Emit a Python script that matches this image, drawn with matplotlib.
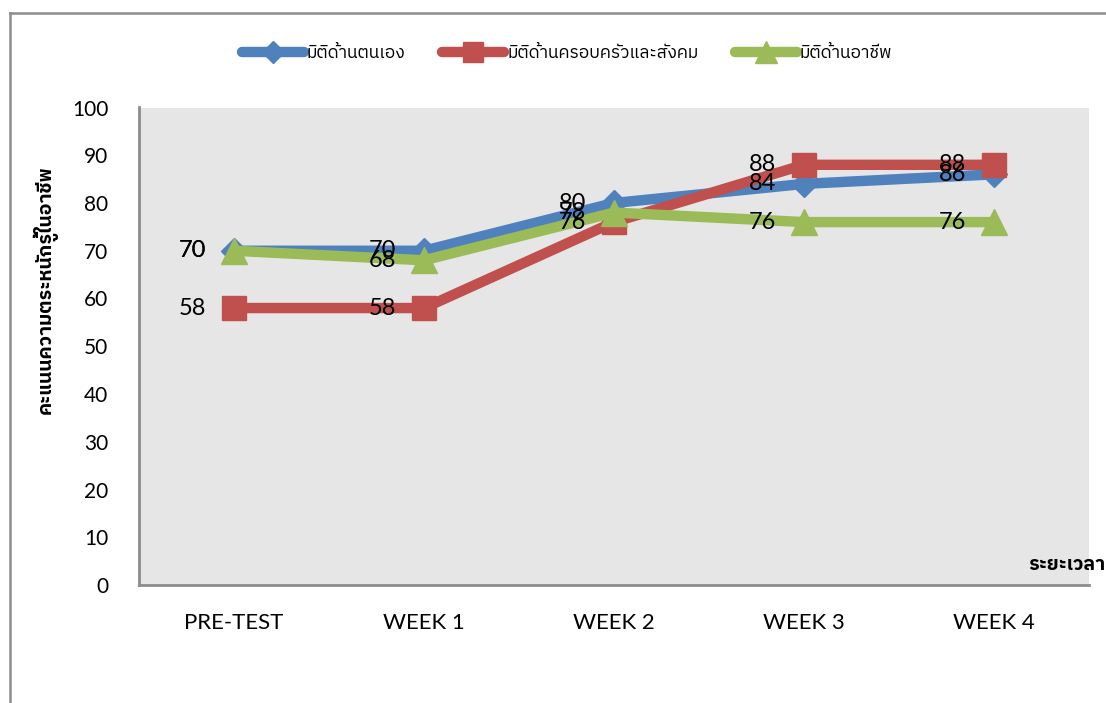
import matplotlib
matplotlib.use("Agg")
import matplotlib.pyplot as plt
from matplotlib import font_manager
from matplotlib.lines import Line2D

# ---- data ----
categories = ["PRE-TEST", "WEEK 1", "WEEK 2", "WEEK 3", "WEEK 4"]
series_names = ["มิติด้านตนเอง", "มิติด้านครอบครัวและสังคม", "มิติด้านอาชีพ"]
self_values = [70, 70, 80, 84, 86]
family_values = [58, 58, 76, 88, 88]
career_values = [70, 68, 78, 76, 76]
y_ticks = [0, 10, 20, 30, 40, 50, 60, 70, 80, 90, 100]
y_label = "คะแนนความตระหนักรู้ในอาชีพ"
x_label = "ระยะเวลา"

# ---- find a font with Thai glyphs ----
thai_font = None
try:
    from fontTools.ttLib import TTFont
    cands = sorted(font_manager.fontManager.ttflist,
                   key=lambda f: (0 if "Thai" in f.name else 1, f.name))
    for f in cands:
        try:
            tt = TTFont(f.fname, fontNumber=0, lazy=True)
            cmap = tt.getBestCmap()
            if cmap and 0x0E21 in cmap and 0x0E34 in cmap and 0x0E49 in cmap:
                thai_font = f.name
                break
        except Exception:
            pass
except Exception:
    pass
thai_family = ([thai_font] if thai_font else []) + ["DejaVu Sans"]
num_family = ["Lato", "DejaVu Sans"]

plt.rcParams['font.family'] = num_family

W, H = 1106, 703
fig = plt.figure(figsize=(W / 100, H / 100), dpi=100)
fig.patch.set_facecolor("white")

# outer frame (top and left edges visible)
fig.add_artist(Line2D([10 / W, 1.0], [1 - 13 / H, 1 - 13 / H], color="#8C8C8C", lw=1.8,
                      transform=fig.transFigure))
fig.add_artist(Line2D([10 / W, 10 / W], [0, 1 - 13 / H], color="#8C8C8C", lw=1.8,
                      transform=fig.transFigure))

ax = fig.add_axes([139 / W, 118 / H, 950 / W, 477.5 / H])
ax.set_facecolor("#E6E6E6")

x = list(range(len(categories)))
colors = ["#4F81BD", "#C0504D", "#9BBB59"]
markers = ["D", "s", "^"]
msizes = [13, 17, 19]
all_vals = [self_values, family_values, career_values]

for vals, c, m, ms, name in zip(all_vals, colors, markers, msizes, series_names):
    ax.plot(x, vals, color=c, lw=7.5, marker=m, markersize=ms,
            markeredgecolor=c, label=name, solid_capstyle="round",
            solid_joinstyle="round")
    for xi, v in zip(x, vals):
        ax.annotate(str(v), (xi, v), xytext=(-20, 0), textcoords="offset points",
                    ha="right", va="center", fontsize=17, color="black",
                    family=num_family)

ax.set_xlim(-0.5, len(categories) - 0.5)
ax.set_ylim(0, 100)
ax.set_yticks(y_ticks)
ax.set_yticklabels([str(t) for t in y_ticks], fontsize=15)
ax.set_xticks(x)
ax.set_xticklabels(categories, fontsize=16)
ax.tick_params(axis="both", length=0)
ax.tick_params(axis="y", pad=22)
ax.tick_params(axis="x", pad=20)
for s in ["top", "right"]:
    ax.spines[s].set_visible(False)
for s in ["left", "bottom"]:
    ax.spines[s].set_color("#8C8C8C")
    ax.spines[s].set_linewidth(2)

fig.text(45 / W, 1 - 290 / H, y_label, rotation=90, ha="center", va="center",
         fontsize=14, fontweight="bold", family=thai_family)
fig.text(1105 / W, 1 - 565 / H, x_label, ha="right", va="center",
         fontsize=14, fontweight="bold", family=thai_family)

handles = [Line2D([0], [0], color=c, lw=7.5, marker=m, markersize=ms * 0.85,
                  markeredgecolor=c, solid_capstyle="round")
           for c, m, ms in zip(colors, markers, msizes)]
leg = fig.legend(handles, series_names, loc="center", ncol=3,
                 bbox_to_anchor=(567 / W, 1 - 53 / H), frameon=False,
                 prop={"family": thai_family, "size": 12.5},
                 handlelength=3.6, handletextpad=0.15, columnspacing=2.1)

fig.savefig("out.png", dpi=100, facecolor="white")
